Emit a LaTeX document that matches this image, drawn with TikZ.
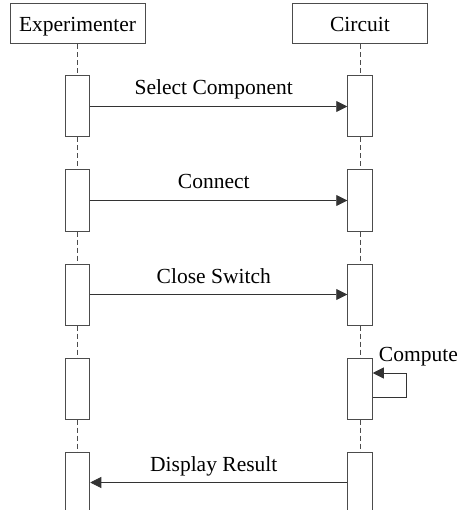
\documentclass[tikz,border=0pt]{standalone}
\usepackage{fontspec}
\setmainfont{Liberation Serif}
\usetikzlibrary{arrows.meta, positioning}

\begin{document}
\begin{tikzpicture}[
    x=1pt, y=1pt,
    font=\fontsize{21.5pt}{25pt}\selectfont,
    actor/.style={rectangle, draw=black!70, line width=1pt, minimum width=135pt, minimum height=40pt, inner sep=0pt, text height=15pt, text depth=0pt},
    act/.style={rectangle, draw=black!70, line width=1pt, fill=white, minimum width=24.5pt, minimum height=61pt, inner sep=0pt},
    life/.style={draw=black!70, line width=0.8pt, dash pattern=on 5pt off 3pt},
    msg/.style={draw=black!80, line width=0.8pt, -{Triangle[length=11pt, width=11pt]}},
    msglabel/.style={anchor=base, yshift=11.5pt, xshift=-5pt, inner sep=0pt},
    node distance=32pt
]
\useasboundingbox (0,0) rectangle (463,-510);

\node[actor] (exp) at (77.5,-24) {Experimenter};
\node[actor] (circ) at (360,-24) {Circuit};

\node[act, below=31pt of exp] (e1) {};
\node[act, below=of e1] (e2) {};
\node[act, below=of e2] (e3) {};
\node[act, below=of e3] (e4) {};
\node[act, below=of e4] (e5) {};

\node[act, below=31pt of circ] (c1) {};
\node[act, below=of c1] (c2) {};
\node[act, below=of c2] (c3) {};
\node[act, below=of c3] (c4) {};
\node[act, below=of c4] (c5) {};

% lifelines
\path[life]
    (exp) -- (e1) (e1) -- (e2) (e2) -- (e3) (e3) -- (e4) (e4) -- (e5)
    (circ) -- (c1) (c1) -- (c2) (c2) -- (c3) (c3) -- (c4) (c4) -- (c5);

% messages
\draw[msg] (e1.east) -- node[msglabel] {Select Component} (c1.west);
\draw[msg] (e2.east) -- node[msglabel] {Connect} (c2.west);
\draw[msg] (e3.east) -- node[msglabel] {Close Switch} (c3.west);
\draw[msg] (c5.west) -- node[msglabel] {Display Result} (e5.east);

% self call
\coordinate (loopout) at ([yshift=-8.5pt]c4.east);
\coordinate (loopin) at ([yshift=15.5pt]c4.east);
\draw[msg] (loopout) -- ++(34,0) |- (loopin);
\node[anchor=base west, inner sep=0pt] (compute) at ([xshift=6pt, yshift=12pt]loopin) {Compute};
\end{tikzpicture}
\end{document}
